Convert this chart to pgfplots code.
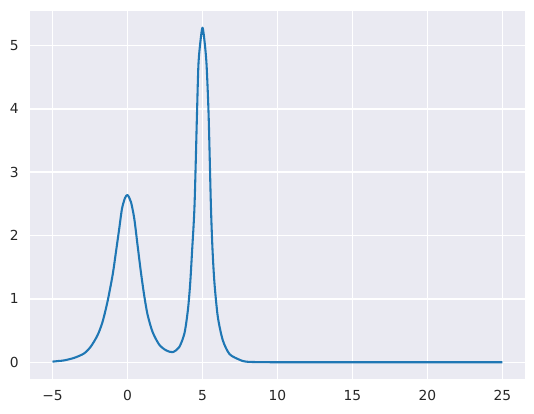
\documentclass[border=0pt]{standalone}
\usepackage{fontspec}
\setmainfont{DejaVu Sans}
\usepackage{pgfplots}
\pgfplotsset{compat=1.18}

\definecolor{sbbg}{HTML}{EAEAF2}
\definecolor{sbtext}{HTML}{262626}
\definecolor{mplblue}{HTML}{1F77B4}

\begin{document}
\begin{tikzpicture}
\begin{axis}[
    scale only axis,
    width=356.4bp,
    height=265bp,
    xmin=-6.5, xmax=26.5,
    ymin=-0.264, ymax=5.544,
    axis background/.style={fill=sbbg},
    axis line style={draw=none},
    tick style={draw=none},
    grid=major,
    major grid style={white, line width=1pt},
    xtick={-5,0,5,10,15,20,25},
    xticklabels={−5,0,5,10,15,20,25},
    ytick={0,1,2,3,4,5},
    /pgf/number format/assume math mode=true,
    ticklabel style={font=\fontsize{10}{12}\selectfont, text=sbtext},
    xticklabel style={yshift=-4.6pt},
    yticklabel style={xshift=-4.6pt},
]

% density-like curve, values
\addplot[mplblue, line width=1.5pt, line join=round, smooth, tension=0.45] coordinates {
    (-5.00, 0.01)
    (-4.60, 0.02)
    (-4.22, 0.03)
    (-3.55, 0.07)
    (-2.89, 0.14)
    (-2.44, 0.25)
    (-1.99, 0.43)
    (-1.66, 0.64)
    (-1.33, 0.96)
    (-0.99, 1.38)
    (-0.77, 1.74)
    (-0.55, 2.11)
    (-0.37, 2.42)
    (-0.17, 2.59)
    (0.00, 2.64)
    (0.23, 2.53)
    (0.45, 2.27)
    (0.67, 1.85)
    (0.89, 1.43)
    (1.11, 1.06)
    (1.34, 0.75)
    (1.67, 0.48)
    (2.11, 0.28)
    (2.56, 0.19)
    (3.01, 0.16)
    (3.45, 0.24)
    (3.80, 0.46)
    (4.03, 0.83)
    (4.18, 1.245)
    (4.31, 1.77)
    (4.47, 2.48)
    (4.63, 3.89)
    (4.73, 4.70)
    (4.87, 5.08)
    (5.00, 5.28)
    (5.13, 5.08)
    (5.27, 4.70)
    (5.41, 3.89)
    (5.56, 2.48)
    (5.67, 1.77)
    (5.80, 1.245)
    (6.02, 0.72)
    (6.35, 0.35)
    (6.80, 0.13)
    (7.47, 0.04)
    (7.90, 0.01)
    (9.00, 0.002)
    (12.00, 0.0)
    (25.00, 0.0)
};

\end{axis}
\path ([xshift=-21.6bp,yshift=-24.5bp]current axis.south west)
    rectangle ([xshift=6.5bp,yshift=7.9bp]current axis.north east);
\end{tikzpicture}
\end{document}
